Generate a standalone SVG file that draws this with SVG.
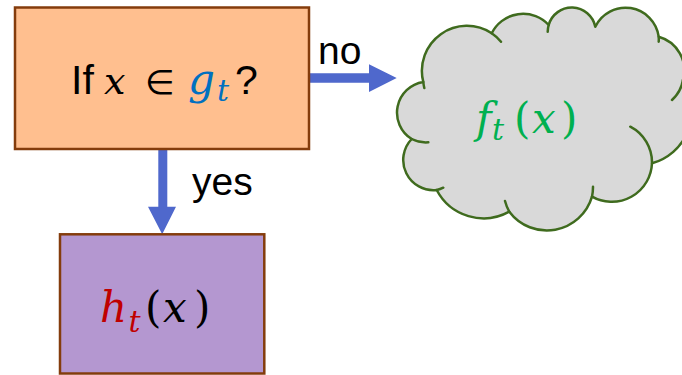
<svg xmlns="http://www.w3.org/2000/svg" width="682" height="375" viewBox="0 0 682 375">
<style>
.lbl{font-family:"Liberation Sans",Arial,sans-serif;font-size:39px;fill:#000}
.m{font-family:"DejaVu Serif","Liberation Serif",serif;font-size:42px}
.mi{font-style:italic}
.sub{font-family:"DejaVu Serif","Liberation Serif",serif;font-style:italic;font-size:30px}
.box{stroke:#843C0C;stroke-width:2.5}
.arrow{fill:#4F68CC}
.cloud{fill:#D9D9D9;stroke:#3F6B1E;stroke-width:2.5;stroke-linejoin:round}
.inner{fill:none;stroke:#3F6B1E;stroke-width:2.5;stroke-linecap:round}
</style>
<rect width="682" height="375" fill="#FFFFFF"/>
<g id="connectors">
<polygon class="arrow" points="309,73.3 369,73.3 369,64.3 396.7,78 369,92 369,82.7 309,82.7"/>
<polygon class="arrow" points="158.3,150 167.3,150 167.3,206.7 176,206.7 162.2,234.3 148,206.7 158.3,206.7"/>
<text class="lbl" x="318" y="64.3">no</text>
<text class="lbl" x="192" y="195">yes</text>
</g>
<g id="decision">
<rect class="box" x="15" y="7.5" width="294" height="141.5" fill="#FFBF8F"/>
<text class="lbl" x="71" y="94.3" style="font-size:41px">If</text>
<text class="m mi" x="104" y="94.3" fill="#000" style="font-size:38px">x</text>
<text x="145" y="94.3" style="font-family:'DejaVu Sans',sans-serif;font-size:34px" fill="#000">∈</text>
<text class="m mi" x="188" y="94.3" fill="#0070C0">g</text>
<text class="sub" x="217" y="101" fill="#0070C0">t</text>
<text class="lbl" x="235" y="94.3" style="font-size:41px">?</text>
</g>
<g id="yes-node">
<rect class="box" x="60" y="234.3" width="204.3" height="139.2" fill="#B497D0"/>
<text class="m mi" x="100" y="321.7" fill="#C00000">h</text>
<text class="sub" x="128.5" y="331.7" fill="#C00000">t</text>
<text class="m" x="145" y="321.7" fill="#000">(</text>
<text class="m mi" x="163" y="321.7" fill="#000">x</text>
<text class="m" x="194" y="321.7" fill="#000">)</text>
</g>
<g id="no-node">
<path class="cloud" d="M 411.7 139 A 31 31 0 0 1 423.3 82 A 45 45 0 0 1 491.7 33.3 A 35 35 0 0 1 548.7 25 A 24 24 0 0 1 595.3 26.7 A 33.5 33.5 0 0 1 658.7 36.7 A 35 35 0 0 1 683 80 A 55 55 0 0 1 652 163.3 A 40.3 40.3 0 0 1 592 196.7 A 47 47 0 0 1 509.3 211.7 A 53 53 0 0 1 436.7 190 A 30.2 30.2 0 0 1 411.7 139 Z"/>
<path class="inner" d="M 424.3 88 A 45 45 0 0 1 423.3 82 M 491.7 33.3 A 45 45 0 0 1 501 41.7 M 547.7 31.7 A 24 24 0 0 1 548.7 25 M 658.7 36.7 A 33.5 33.5 0 0 1 658.7 41.7 M 683 80 A 35 35 0 0 1 672 100 M 630.3 126.7 A 40.3 40.3 0 0 1 652 163.3 M 593 186.7 A 47 47 0 0 1 592 196.7 M 509.3 211.7 A 47 47 0 0 1 505 201 M 443.3 187.7 A 30.2 30.2 0 0 1 436.7 190 M 428.3 142.3 A 31 31 0 0 1 411.7 139"/>
<text class="m mi" x="476" y="133.3" fill="#00B050">f</text>
<text class="sub" x="492" y="140" fill="#00B050">t</text>
<text class="m" x="514" y="133.3" fill="#00B050">(</text>
<text class="m mi" x="532" y="133.3" fill="#00B050">x</text>
<text class="m" x="561" y="133.3" fill="#00B050">)</text>
</g>
</svg>
